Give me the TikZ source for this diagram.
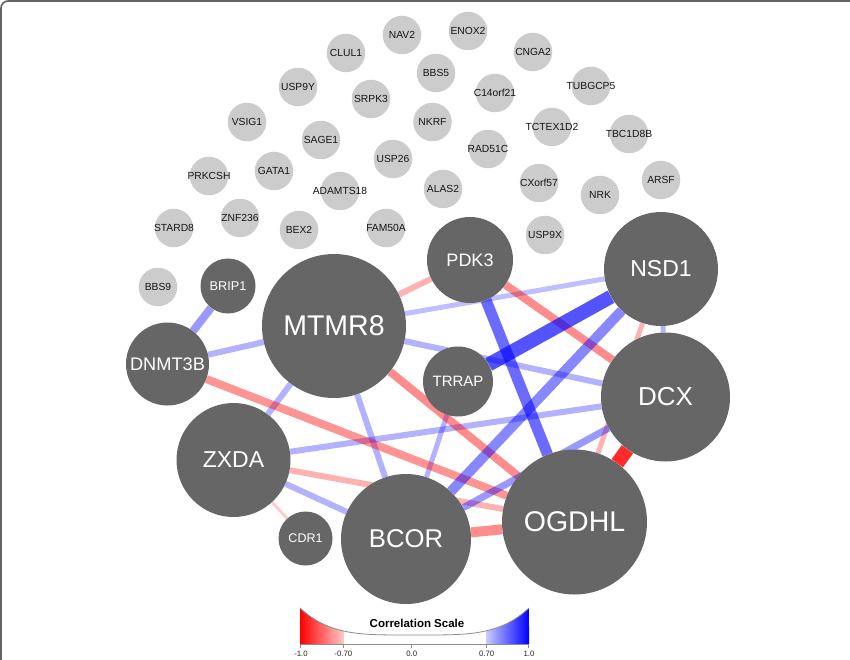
\documentclass[tikz,border=0pt]{standalone}
\usepackage{fontspec}
\setmainfont{Liberation Sans}
\usepackage{tikz}
\usetikzlibrary{backgrounds}
\definecolor{hubgray}{RGB}{102,102,102}
\definecolor{genegray}{RGB}{204,204,204}
\definecolor{framegray}{RGB}{100,100,100}
\definecolor{corrred}{RGB}{255,0,0}
\definecolor{corrblue}{RGB}{0,0,255}

\begin{document}
\begin{tikzpicture}[
  x=1pt, y=-1pt,
  hub/.style 2 args={circle, fill=hubgray, text=white, inner sep=0pt,
    minimum size=#1pt, font=\fontsize{#2}{#2}\selectfont},
  gene/.style={circle, fill=genegray, inner sep=0pt, minimum size=38.5pt,
    label={[font=\fontsize{10.3}{11}\selectfont, text=black!92]center:#1}},
  pos/.style 2 args={draw=corrblue, draw opacity=#1, line width=#2pt},
  neg/.style 2 args={draw=corrred, draw opacity=#1, line width=#2pt},
  tick/.style={draw=black!45, line width=0.6pt},
  scalelab/.style={font=\fontsize{7.8}{8}\selectfont, text=black!85}
]
  \path[use as bounding box] (0,0) rectangle (850,660);
  \begin{scope}
    \clip (0,0) rectangle (850,660);
    \draw[framegray, line width=1.6pt, rounded corners=7pt] (1,1) rectangle (900,720);
  \end{scope}

  \node[gene=NAV2] (nav2) at (402,35) {};
  \node[gene=ENOX2] (enox2) at (468,31) {};
  \node[gene=CLUL1] (clul1) at (346,53) {};
  \node[gene=CNGA2] (cnga2) at (533,52) {};
  \node[gene=BBS5] (bbs5) at (436,73) {};
  \node[gene=USP9Y] (usp9y) at (298,87) {};
  \node[gene=SRPK3] (srpk3) at (371,99) {};
  \node[gene=C14orf21] (c14orf21) at (495,93) {};
  \node[gene=TUBGCP5] (tubgcp5) at (591,86) {};
  \node[gene=VSIG1] (vsig1) at (247,122) {};
  \node[gene=NKRF] (nkrf) at (432.5,122) {};
  \node[gene=TCTEX1D2] (tctex1d2) at (552,127) {};
  \node[gene=TBC1D8B] (tbc1d8b) at (629,134) {};
  \node[gene=SAGE1] (sage1) at (321,140) {};
  \node[gene=RAD51C] (rad51c) at (488,149) {};
  \node[gene=USP26] (usp26) at (393,159) {};
  \node[gene=PRKCSH] (prkcsh) at (209,176) {};
  \node[gene=GATA1] (gata1) at (274,171) {};
  \node[gene=ADAMTS18] (adamts18) at (340,191) {};
  \node[gene=ALAS2] (alas2) at (443,189) {};
  \node[gene=CXorf57] (cxorf57) at (539,183) {};
  \node[gene=NRK] (nrk) at (600,195) {};
  \node[gene=ARSF] (arsf) at (661,180) {};
  \node[gene=STARD8] (stard8) at (174,228) {};
  \node[gene=ZNF236] (znf236) at (240,218) {};
  \node[gene=BEX2] (bex2) at (299,230) {};
  \node[gene=FAM50A] (fam50a) at (386,228) {};
  \node[gene=USP9X] (usp9x) at (545,235) {};
  \node[gene=BBS9] (bbs9) at (158,287) {};

  \node[hub={55}{12.7}] (brip1) at (228,286) {BRIP1};
  \node[hub={144}{28.5}] (mtmr8) at (334,326) {MTMR8};
  \node[hub={83}{18.2}] (dnmt3b) at (167.5,364) {DNMT3B};
  \node[hub={114}{23}] (zxda) at (233.5,460) {ZXDA};
  \node[hub={54}{12.5}] (cdr1) at (305.5,538.5) {CDR1};
  \node[hub={130}{25.7}] (bcor) at (406,539) {BCOR};
  \node[hub={145}{28.5}] (ogdhl) at (574.5,522) {OGDHL};
  \node[hub={129}{26}] (dcx) at (665.5,397) {DCX};
  \node[hub={114}{23}] (nsd1) at (661,269) {NSD1};
  \node[hub={86}{18}] (pdk3) at (470,260) {PDK3};
  \node[hub={70}{15}] (trrap) at (458,381.5) {TRRAP};

  \begin{scope}[on background layer]
    \fill[white] (0,0) rectangle (850,660);
    \draw[pos={.3}{6}] (dnmt3b) -- (mtmr8);
    \draw[pos={.3}{6}] (mtmr8) -- (zxda);
    \draw[pos={.3}{6}] (mtmr8) -- (bcor);
    \draw[pos={.25}{5}] (mtmr8) -- (nsd1);
    \draw[pos={.3}{6}] (mtmr8) -- (dcx);
    \draw[pos={.3}{6}] (zxda) -- (dcx);
    \draw[pos={.3}{6}] (zxda) -- (bcor);
    \draw[pos={.3}{5}] (trrap) -- (bcor);
    \draw[pos={.3}{5}] (nsd1) -- (dcx);
    \draw[neg={.3}{6}] (mtmr8) -- (pdk3);
    \draw[neg={.3}{6}] (zxda) -- (ogdhl);
    \draw[neg={.3}{5}] (nsd1) -- (ogdhl);
    \draw[neg={.2}{3}] (zxda) -- (cdr1);
    \draw[neg={.42}{8}] (dnmt3b) -- (ogdhl);
    \draw[neg={.45}{8}] (mtmr8) -- (ogdhl);
    \draw[neg={.45}{8}] (pdk3) -- (dcx);
    \draw[neg={.45}{10}] (bcor) -- (ogdhl);
    \draw[pos={.4}{8}] (brip1) -- (dnmt3b);
    \draw[pos={.4}{7}] (bcor) -- (dcx);
    \draw[pos={.47}{10}] (nsd1) -- (bcor);
    \draw[pos={.58}{11}] (pdk3) -- (ogdhl);
    \draw[pos={.67}{14}] (trrap) -- (nsd1);
    \draw[neg={.83}{14}] (dcx) -- (ogdhl);
  \end{scope}

  \begin{scope}
    \clip (300,644) -- plot[domain=-1:1, samples=80]
      ({414.5+114.5*\x}, {635-27*\x*\x*\x*\x}) -- (529,644) -- cycle;
    \shade[left color=corrred, right color=corrred!22] (300,600) rectangle (343.3,645);
    \shade[left color=corrblue!22, right color=corrblue] (486.7,600) rectangle (529,645);
  \end{scope}
  \draw[black!45, line width=0.8pt] plot[domain=-1:1, samples=80]
    ({414.5+114.5*\x}, {635-27*\x*\x*\x*\x});
  \draw[tick] (300,644) -- (529,644);
  \draw[tick] (300.5,644) -- ++(0,3.5);
  \draw[tick] (343.3,644) -- ++(0,3.5);
  \draw[tick] (411.7,644) -- ++(0,3.5);
  \draw[tick] (486.7,644) -- ++(0,3.5);
  \draw[tick] (528.5,644) -- ++(0,3.5);
  \node[font=\bfseries\fontsize{11.5}{12}\selectfont] (scaletitle) at (417,623) {Correlation Scale};
  \node[scalelab] (lmone) at (301,654) {-1.0};
  \node[scalelab] (lmseven) at (343.3,654) {-0.70};
  \node[scalelab] (lzero) at (411.7,654) {0.0};
  \node[scalelab] (lseven) at (486.7,654) {0.70};
  \node[scalelab] (lone) at (529,654) {1.0};
\end{tikzpicture}
\end{document}
